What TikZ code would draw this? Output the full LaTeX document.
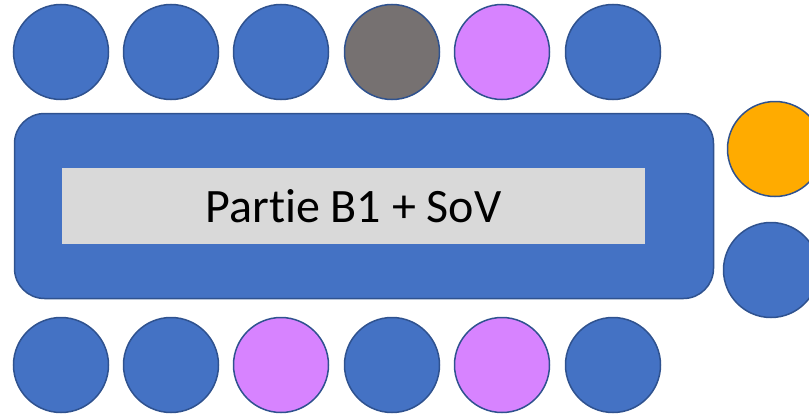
\documentclass[tikz,border=0pt]{standalone}
\usepackage{fontspec}
\setmainfont{Carlito}[Ligatures=NoCommon]
\definecolor{seatblue}{HTML}{4472C4}
\definecolor{seatedge}{HTML}{2F528F}
\definecolor{seatgrey}{HTML}{767171}
\definecolor{seatpink}{HTML}{D783FF}
\definecolor{seatorange}{HTML}{FFAB00}
\definecolor{labelgrey}{HTML}{D9D9D9}
\tikzset{x=1pt,y=-1pt}

\begin{document}
\begin{tikzpicture}[
            seat/.style={circle,draw=seatedge,line width=1.5pt,minimum size=95pt,inner sep=0pt},
            table/.style={rounded corners=30pt,draw=seatedge,line width=1.5pt,fill=seatblue,minimum width=699pt,minimum height=185pt,inner sep=0pt},
            tag/.style={fill=labelgrey,minimum width=583pt,minimum height=76pt,inner sep=0pt,font=\fontsize{48}{54}\selectfont}
            ]
            \useasboundingbox (0,0) rectangle (809,415);
            \clip (0,0) rectangle (809,415);
            % table with its label
            \node[table] (board) at (364,206) {};
            \node[tag] (label) at (353.5,206) {Partie B1 + SoV};
            % top row
            \node[seat,fill=seatblue] (t1) at (61,52) {};
            \node[seat,fill=seatblue] (t2) at (171,52) {};
            \node[seat,fill=seatblue] (t3) at (281,52) {};
            \node[seat,fill=seatgrey] (t4) at (392,52) {};
            \node[seat,fill=seatpink] (t5) at (502,52) {};
            \node[seat,fill=seatblue] (t6) at (613,52) {};
            % right end
            \node[seat,fill=seatorange] (r1) at (775,149) {};
            \node[seat,fill=seatblue] (r2) at (771,270) {};
            % bottom row
            \node[seat,fill=seatblue] (b1) at (61,365) {};
            \node[seat,fill=seatblue] (b2) at (171,365) {};
            \node[seat,fill=seatpink] (b3) at (281,365) {};
            \node[seat,fill=seatblue] (b4) at (392,365) {};
            \node[seat,fill=seatpink] (b5) at (502,365) {};
            \node[seat,fill=seatblue] (b6) at (613,365) {};
        \end{tikzpicture}
\end{document}
